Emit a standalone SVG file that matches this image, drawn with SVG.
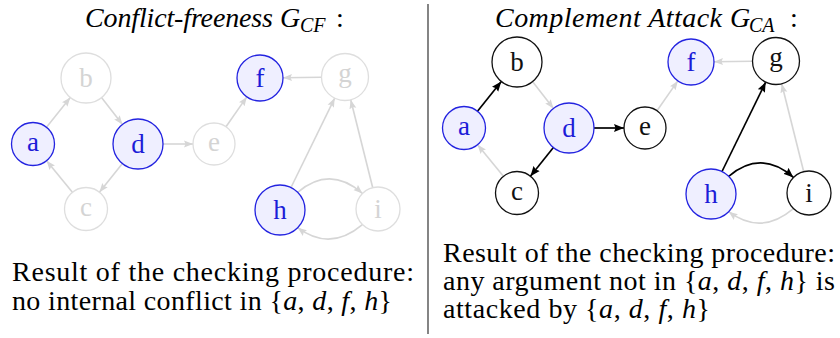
<svg xmlns="http://www.w3.org/2000/svg" width="840" height="338" viewBox="0 0 840 338">
<style>
.title{font-size:28px;font-style:italic;fill:#000;font-family:'Liberation Serif',serif;}
.sub{font-size:20px;font-style:italic;fill:#000;font-family:'Liberation Serif',serif;}
.body{font-size:28px;fill:#000;font-family:'Liberation Serif',serif;}
.it{font-style:italic;}
.lbl{font-size:27px;text-anchor:middle;font-family:'Liberation Serif',serif;}
.sel circle{fill:#efefff;stroke:#2323e0;stroke-width:1.3;}
.sel text{fill:#1c1cd8;}
.faint circle{fill:#fff;stroke:#dedede;stroke-width:1.3;}
.faint text{fill:#d4d4d4;}
.plain circle{fill:#fff;stroke:#111;stroke-width:1.3;}
.plain text{fill:#111;}
.eg{fill:none;stroke:#d6d6d6;stroke-width:1.6;marker-end:url(#ag);}
.eb{fill:none;stroke:#000;stroke-width:1.7;marker-end:url(#ab);}
</style>
<defs>
<marker id="ag" markerUnits="userSpaceOnUse" markerWidth="10" markerHeight="8" refX="9" refY="4" orient="auto"><path d="M0,0.5 L9,4 L0,7.5 L1.5,4 z" fill="#d6d6d6"/></marker>
<marker id="ab" markerUnits="userSpaceOnUse" markerWidth="11" markerHeight="9" refX="10" refY="4.5" orient="auto"><path d="M0,0.5 L10,4.5 L0,8.5 L1.5,4.5 z" fill="#000"/></marker>
</defs>
<g id="heading-left">
<text class="title" x="85" y="27" textLength="188" lengthAdjust="spacing">Conflict-freeness</text>
<text class="title" x="280" y="27">G</text>
<text class="sub" x="300" y="32">CF</text>
<text class="body" x="336" y="27">:</text>
</g>
<g id="heading-right">
<text class="title" x="495" y="27" textLength="227" lengthAdjust="spacing">Complement Attack</text>
<text class="title" x="730" y="27">G</text>
<text class="sub" x="749" y="32">CA</text>
<text class="body" x="790" y="27">:</text>
</g>
<line id="divider" x1="428" y1="4" x2="428" y2="334" stroke="#333" stroke-width="1.2"/>
<g id="left-edges">
<line class="eg" x1="46.5" y1="127.2" x2="70.3" y2="97.5"/>
<line class="eg" x1="101.5" y1="97.6" x2="122.5" y2="124.4"/>
<line class="eg" x1="122.4" y1="163.5" x2="99.4" y2="192.2"/>
<line class="eg" x1="72.4" y1="192.3" x2="46.6" y2="160.7"/>
<line class="eg" x1="163" y1="144" x2="193" y2="144"/>
<line class="eg" x1="226" y1="126.8" x2="246.8" y2="96.9"/>
<line class="eg" x1="321.5" y1="77.3" x2="283" y2="77.7"/>
<line class="eg" x1="291" y1="187.5" x2="334.7" y2="98.1"/>
<line class="eg" x1="372.7" y1="187.7" x2="350.7" y2="99.8"/>
<path class="eg" d="M297.7,192.3 Q330,165 362.4,193.4"/>
<path class="eg" d="M362.4,224.6 Q330,252 297.7,227.7"/>
</g>
<g id="L-a" class="sel"><circle cx="33" cy="144" r="21.5"/><text class="lbl" x="33" y="151">a</text></g>
<g id="L-b" class="faint"><circle cx="86" cy="78" r="25"/><text class="lbl" x="86" y="87">b</text></g>
<g id="L-c" class="faint"><circle cx="86" cy="209" r="21.5"/><text class="lbl" x="86" y="216">c</text></g>
<g id="L-d" class="sel"><circle cx="138" cy="144" r="25"/><text class="lbl" x="138" y="153">d</text></g>
<g id="L-e" class="faint"><circle cx="214" cy="144" r="21"/><text class="lbl" x="214" y="151">e</text></g>
<g id="L-f" class="sel"><circle cx="260" cy="78" r="23"/><text class="lbl" x="260" y="87">f</text></g>
<g id="L-g" class="faint"><circle cx="345" cy="77" r="23.5"/><text class="lbl" x="345" y="82">g</text></g>
<g id="L-h" class="sel"><circle cx="280" cy="210" r="25"/><text class="lbl" x="280" y="219">h</text></g>
<g id="L-i" class="faint"><circle cx="378" cy="209" r="22"/><text class="lbl" x="378" y="218">i</text></g>
<g transform="translate(431,-16)">
<g id="right-edges">
<line class="eb" x1="46.5" y1="127.2" x2="70.3" y2="97.5"/>
<line class="eg" x1="101.5" y1="97.6" x2="122.5" y2="124.4"/>
<line class="eb" x1="122.4" y1="163.5" x2="99.4" y2="192.2"/>
<line class="eg" x1="72.4" y1="192.3" x2="46.6" y2="160.7"/>
<line class="eb" x1="163" y1="144" x2="193" y2="144"/>
<line class="eg" x1="226" y1="126.8" x2="246.8" y2="96.9"/>
<line class="eg" x1="321.5" y1="77.3" x2="283" y2="77.7"/>
<line class="eb" x1="291" y1="187.5" x2="334.7" y2="98.1"/>
<line class="eg" x1="372.7" y1="187.7" x2="350.7" y2="99.8"/>
<path class="eb" d="M297.7,192.3 Q330,165 362.4,193.4"/>
<path class="eg" d="M362.4,224.6 Q330,252 297.7,227.7"/>
</g>
<g id="R-a" class="sel"><circle cx="33" cy="144" r="21.5"/><text class="lbl" x="33" y="151">a</text></g>
<g id="R-b" class="plain"><circle cx="86" cy="78" r="25"/><text class="lbl" x="86" y="87">b</text></g>
<g id="R-c" class="plain"><circle cx="86" cy="209" r="21.5"/><text class="lbl" x="86" y="216">c</text></g>
<g id="R-d" class="sel"><circle cx="138" cy="144" r="25"/><text class="lbl" x="138" y="153">d</text></g>
<g id="R-e" class="plain"><circle cx="214" cy="144" r="21"/><text class="lbl" x="214" y="151">e</text></g>
<g id="R-f" class="sel"><circle cx="260" cy="78" r="23"/><text class="lbl" x="260" y="87">f</text></g>
<g id="R-g" class="plain"><circle cx="345" cy="77" r="23.5"/><text class="lbl" x="345" y="82">g</text></g>
<g id="R-h" class="sel"><circle cx="280" cy="210" r="25"/><text class="lbl" x="280" y="219">h</text></g>
<g id="R-i" class="plain"><circle cx="378" cy="209" r="22"/><text class="lbl" x="378" y="218">i</text></g>
</g>
<g id="caption-left">
<text class="body" x="12" y="281" textLength="402" lengthAdjust="spacing">Result of the checking procedure:</text>
<text class="body" x="12" y="310" textLength="380" lengthAdjust="spacing">no internal conflict in {<tspan class="it">a</tspan>, <tspan class="it">d</tspan>, <tspan class="it">f</tspan>, <tspan class="it">h</tspan>}</text>
</g>
<g id="caption-right">
<text class="body" x="443" y="262" textLength="392" lengthAdjust="spacing">Result of the checking procedure:</text>
<text class="body" x="443" y="290" textLength="392" lengthAdjust="spacing">any argument not in {<tspan class="it">a</tspan>, <tspan class="it">d</tspan>, <tspan class="it">f</tspan>, <tspan class="it">h</tspan>} is</text>
<text class="body" x="443" y="318" textLength="267" lengthAdjust="spacing">attacked by {<tspan class="it">a</tspan>, <tspan class="it">d</tspan>, <tspan class="it">f</tspan>, <tspan class="it">h</tspan>}</text>
</g>
</svg>
